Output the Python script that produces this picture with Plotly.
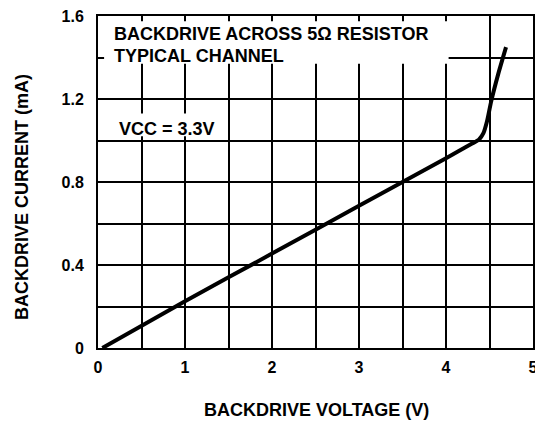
import plotly.graph_objects as go

# Data
voltage = [0.05, 1.0, 2.0, 3.0, 4.0, 4.3, 4.38, 4.43, 4.47, 4.52, 4.6, 4.69]
current = [0.0, 0.225, 0.455, 0.685, 0.915, 0.985, 1.005, 1.035, 1.09, 1.19, 1.32, 1.45]

x_ticks = [0, 1, 2, 3, 4, 5]
x_tick_labels = ["0", "1", "2", "3", "4", "5"]
y_ticks = [0, 0.4, 0.8, 1.2, 1.6]
y_tick_labels = ["0", "0.4", "0.8", "1.2", "1.6"]

FONT = "Liberation Sans, Arial, sans-serif"

# page is offset by the 8px body margin, so the figure is 8px smaller
OFF = 8
W, H = 543 - OFF, 423 - OFF
ml, mr, mt, mb = 98 - OFF, 10, 16 - OFF, 423 - 348
pw, ph = W - ml - mr, H - mt - mb


def px2paper(px, py):
    return (px - OFF - ml) / pw, (H - mb - (py - OFF)) / ph


fig = go.Figure()
fig.add_trace(go.Scatter(x=voltage, y=current, mode="lines",
                         line=dict(color="black", width=4, shape="spline", smoothing=0.6),
                         hoverinfo="skip", showlegend=False))

tickfont = dict(family=FONT, size=16, color="black", weight="bold")
axis_common = dict(showline=True, linecolor="black", linewidth=2, mirror=True,
                   showgrid=True, gridcolor="black", gridwidth=1.8,
                   ticks="inside", ticklen=5, tickwidth=1.8, tickcolor="black",
                   zeroline=False, fixedrange=True, tickfont=tickfont,
                   ticklabeloverflow="allow", automargin=False)

fig.update_xaxes(range=[0, 5], tickvals=x_ticks, ticktext=x_tick_labels,
                 ticklabelstandoff=4,
                 minor=dict(dtick=0.5, showgrid=True, gridcolor="black", gridwidth=1.8,
                            ticks="inside", ticklen=5, tickwidth=1.8, tickcolor="black"),
                 **axis_common)
fig.update_yaxes(range=[0, 1.6], tickvals=y_ticks, ticktext=y_tick_labels,
                 ticklabelstandoff=9,
                 minor=dict(dtick=0.2, showgrid=True, gridcolor="black", gridwidth=1.8,
                            ticks="inside", ticklen=5, tickwidth=1.8, tickcolor="black"),
                 **axis_common)

# white boxes covering the grid behind the text
fig.add_shape(type="rect", xref="x", yref="y", x0=0.07, x1=4.03, y0=1.37, y1=1.575,
              fillcolor="white", line=dict(width=0), layer="between")
fig.add_shape(type="rect", xref="x", yref="y", x0=0.03, x1=1.47, y0=1.02, y1=1.13,
              fillcolor="white", line=dict(width=0), layer="between")

txt = dict(family=FONT, size=18, color="black", weight="bold")


def label(text, px, py, xanchor="left", angle=0):
    x, y = px2paper(px, py)
    fig.add_annotation(x=x, y=y, xref="paper", yref="paper", xanchor=xanchor,
                       yanchor="middle", text=text, showarrow=False, font=txt,
                       textangle=angle)


label("BACKDRIVE ACROSS 5Ω RESISTOR", 112, 34)
label("TYPICAL CHANNEL", 112, 56)
label("VCC = 3.3V", 117, 129)
label("BACKDRIVE VOLTAGE (V)", 316, 410, xanchor="center")
label("BACKDRIVE CURRENT (mA)", 22, 197, xanchor="center", angle=-90)

fig.update_layout(width=W, height=H, margin=dict(l=ml, r=mr, t=mt, b=mb, autoexpand=False),
                  plot_bgcolor="white", paper_bgcolor="white",
                  font=dict(family=FONT, color="black"))

fig.write_html("out.html", config={"displayModeBar": False})
